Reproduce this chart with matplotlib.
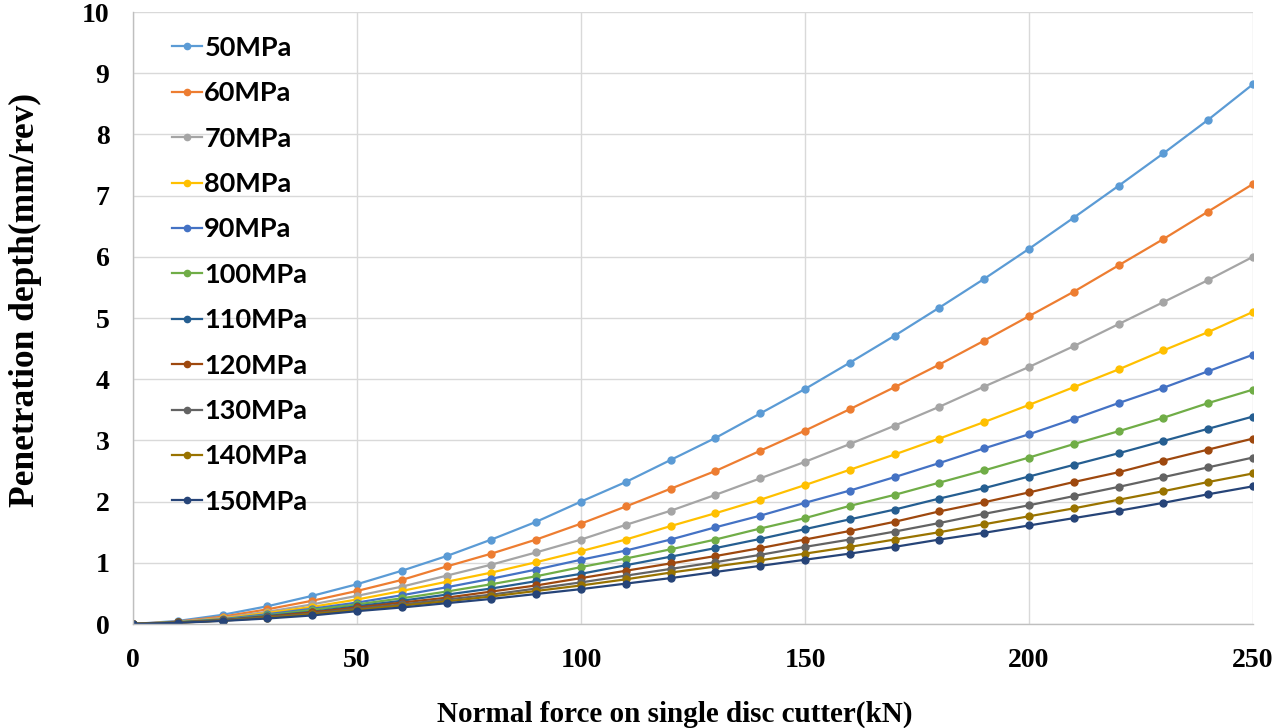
import matplotlib
matplotlib.use("Agg")
import matplotlib.pyplot as plt

force = [0, 10, 20, 30, 40, 50, 60, 70, 80, 90, 100, 110, 120, 130, 140, 150,
         160, 170, 180, 190, 200, 210, 220, 230, 240, 250]

labels = ["50MPa", "60MPa", "70MPa", "80MPa", "90MPa", "100MPa",
          "110MPa", "120MPa", "130MPa", "140MPa", "150MPa"]

d50 = [0, 0.05, 0.15, 0.29, 0.46, 0.65, 0.87, 1.11, 1.38, 1.67, 2.00, 2.32, 2.68,
       3.04, 3.44, 3.84, 4.27, 4.71, 5.17, 5.64, 6.13, 6.64, 7.16, 7.69, 8.24, 8.82]
d60 = [0, 0.04, 0.12, 0.24, 0.38, 0.54, 0.72, 0.94, 1.15, 1.38, 1.64, 1.92, 2.21,
       2.50, 2.83, 3.16, 3.51, 3.87, 4.24, 4.63, 5.03, 5.43, 5.86, 6.29, 6.74, 7.19]
d70 = [0, 0.035, 0.10, 0.20, 0.32, 0.46, 0.61, 0.79, 0.97, 1.17, 1.38, 1.62, 1.85,
       2.11, 2.38, 2.65, 2.94, 3.24, 3.55, 3.88, 4.20, 4.54, 4.90, 5.26, 5.62, 6.00]
d80 = [0, 0.03, 0.09, 0.18, 0.28, 0.40, 0.54, 0.69, 0.84, 1.01, 1.19, 1.38, 1.60,
       1.81, 2.03, 2.27, 2.52, 2.77, 3.03, 3.30, 3.58, 3.87, 4.16, 4.47, 4.77, 5.10]
d90 = [0, 0.03, 0.08, 0.16, 0.25, 0.35, 0.47, 0.60, 0.74, 0.89, 1.05, 1.20, 1.38,
       1.58, 1.77, 1.98, 2.18, 2.40, 2.63, 2.87, 3.10, 3.35, 3.61, 3.86, 4.13, 4.40]
d100 = [0, 0.03, 0.07, 0.14, 0.23, 0.32, 0.42, 0.53, 0.65, 0.78, 0.93, 1.07, 1.22,
        1.38, 1.56, 1.73, 1.93, 2.11, 2.31, 2.51, 2.72, 2.94, 3.15, 3.37, 3.61, 3.83]
d110 = [0, 0.025, 0.065, 0.13, 0.20, 0.29, 0.38, 0.48, 0.58, 0.70, 0.82, 0.96, 1.10,
        1.24, 1.39, 1.55, 1.71, 1.87, 2.05, 2.22, 2.41, 2.60, 2.79, 2.99, 3.19, 3.39]
d120 = [0, 0.025, 0.06, 0.12, 0.19, 0.27, 0.35, 0.43, 0.53, 0.63, 0.75, 0.87, 0.99,
        1.11, 1.24, 1.38, 1.52, 1.67, 1.84, 1.99, 2.15, 2.32, 2.48, 2.67, 2.85, 3.03]
d130 = [0, 0.02, 0.06, 0.11, 0.17, 0.25, 0.32, 0.40, 0.48, 0.58, 0.68, 0.79, 0.90,
        1.01, 1.13, 1.26, 1.38, 1.51, 1.65, 1.80, 1.94, 2.09, 2.24, 2.40, 2.56, 2.72]
d140 = [0, 0.02, 0.055, 0.10, 0.16, 0.23, 0.30, 0.37, 0.45, 0.54, 0.63, 0.73, 0.84,
        0.94, 1.04, 1.15, 1.26, 1.38, 1.50, 1.63, 1.76, 1.89, 2.03, 2.17, 2.32, 2.46]
d150 = [0, 0.02, 0.05, 0.09, 0.14, 0.21, 0.27, 0.34, 0.41, 0.49, 0.57, 0.66, 0.75,
        0.85, 0.95, 1.05, 1.15, 1.26, 1.38, 1.49, 1.61, 1.73, 1.85, 1.98, 2.12, 2.25]

series = [d50, d60, d70, d80, d90, d100, d110, d120, d130, d140, d150]
colors = ["#5B9BD5", "#ED7D31", "#A5A5A5", "#FFC000", "#4472C4", "#70AD47",
          "#255E91", "#9E480E", "#636363", "#997300", "#264478"]

fig = plt.figure(figsize=(12.76, 7.28), dpi=100)
ax = fig.add_axes([133 / 1276, 1 - 624 / 728, (1253 - 133) / 1276, (624 - 12) / 728])

for lab, ys, c in zip(labels, series, colors):
    ax.plot(force, ys, color=c, lw=1.6, marker="o", ms=5, label=lab)

ax.set_xlim(0, 250)
ax.set_ylim(0, 10)
ax.set_xticks(range(0, 251, 50))
ax.set_yticks(range(0, 11, 1))
ax.grid(True, color="#D9D9D9", lw=1.0)
ax.set_axisbelow(True)
for s in ["top", "right"]:
    ax.spines[s].set_visible(False)
for s in ["left", "bottom"]:
    ax.spines[s].set_color("#BFBFBF")
    ax.spines[s].set_linewidth(1.0)
ax.tick_params(length=0, pad=17)
for t in ax.get_xticklabels() + ax.get_yticklabels():
    t.set_fontfamily("Liberation Serif")
    t.set_fontweight("bold")
    t.set_fontsize(20)

ax.set_xlabel("Normal force on single disc cutter(kN)", fontfamily="Liberation Serif",
              fontweight="bold", fontsize=21)
ax.xaxis.set_label_coords((675 - 133) / 1120, (624 - 701) / 612)
ax.set_ylabel("Penetration depth(mm/rev)", fontfamily="Liberation Serif",
              fontweight="bold", fontsize=25.5)
ax.yaxis.set_label_coords((42 - 133) / 1120, (624 - 300) / 612)

leg = ax.legend(loc="upper left", bbox_to_anchor=(161 / 1276, 1 - 25 / 728),
                bbox_transform=fig.transFigure, frameon=False,
                prop={"family": "Lato", "weight": "bold", "size": 19.5},
                labelspacing=0.79, handlelength=1.1, handletextpad=0.1,
                borderaxespad=0)
for h in leg.legend_handles:
    h.set_markersize(4.5)

fig.savefig("out.png", dpi=100)
